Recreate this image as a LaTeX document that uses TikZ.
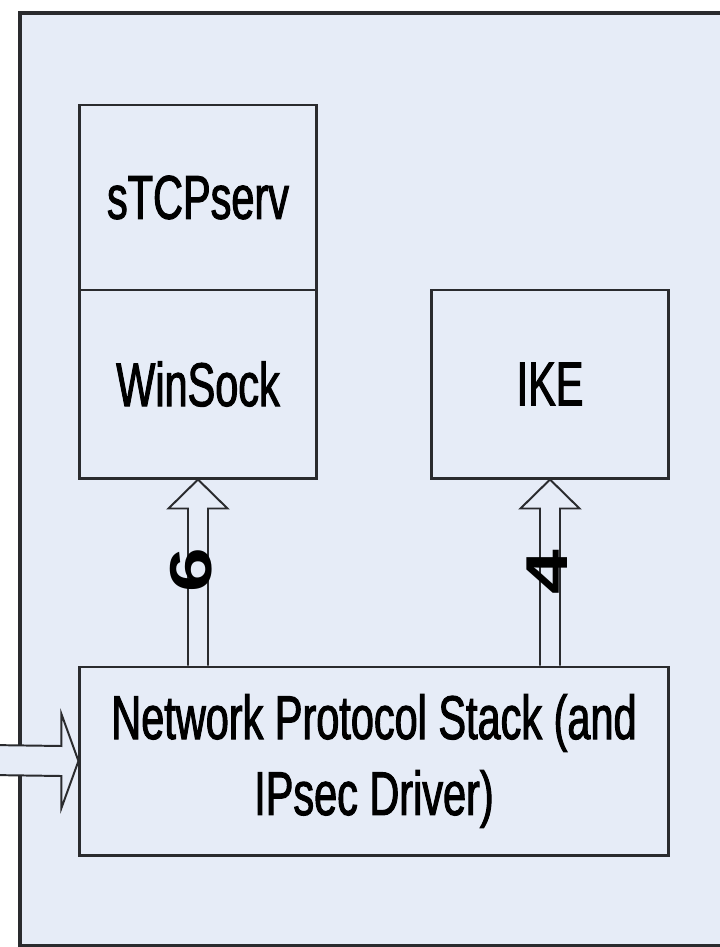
\documentclass[tikz,border=0pt]{standalone}
\usepackage{fontspec}
\setmainfont{Liberation Sans}
\newfontfamily\boxfont{Liberation Sans}[FakeStretch=0.67, FakeBold=1.6]
\newfontfamily\numfont{Liberation Sans}[FakeStretch=1.36]
\usetikzlibrary{calc}

\definecolor{panel}{RGB}{230,236,247}
\definecolor{edge}{RGB}{42,43,46}

\tikzset{
    box/.style={draw=edge, line width=2.1pt, fill=panel, inner sep=0pt,
        align=center, font=\boxfont\fontsize{44}{54}\selectfont},
    blockarrow/.style={draw=edge, line width=1.4pt, fill=panel, line join=miter},
    tag/.style={rotate=90, inner sep=0pt, font=\numfont\bfseries\fontsize{42}{42}\selectfont}
}

\begin{document}
\begin{tikzpicture}[x=0.025cm, y=-0.025cm]
    \clip (0,0) rectangle (720,947);

    % host frame, its right side runs off the page
    \draw[edge, line width=2.6pt, fill=panel] (20,13) rectangle (780,946);

    \node[box, minimum width=5.9cm, minimum height=4.625cm] (stcp) at (198,197.5) {sTCPserv};
    \node[box, minimum width=5.9cm, minimum height=4.7cm] (ws) at (198,384) {WinSock};
    \node[box, minimum width=5.9cm, minimum height=4.7cm] (ike) at (550,384) {IKE};
    \node[box, minimum width=14.7cm, minimum height=4.7cm] (net) at (374,761) {Network Protocol Stack (and\\IPsec Driver)};

    \coordinate (in) at (-10,760);

    % up arrows from the stack
    \draw[blockarrow] ($(ws.south |- net.north)+(-10,0)$) -- ($(ws.south)+(-10,29)$)
        -- ($(ws.south)+(-29.5,29)$) -- (ws.south) -- ($(ws.south)+(29.5,29)$)
        -- ($(ws.south)+(10,29)$) -- ($(ws.south |- net.north)+(10,0)$);
    \draw[blockarrow] ($(ike.south |- net.north)+(-10,0)$) -- ($(ike.south)+(-10,29)$)
        -- ($(ike.south)+(-29.5,29)$) -- (ike.south) -- ($(ike.south)+(29.5,29)$)
        -- ($(ike.south)+(10,29)$) -- ($(ike.south |- net.north)+(10,0)$);

    % incoming arrow
    \draw[blockarrow] ($(in)+(0,-15)$) -- ($(net.west)+(-17,-15)$) -- ($(net.west)+(-17,-47)$)
        -- (net.west) -- ($(net.west)+(-17,47)$) -- ($(net.west)+(-17,15)$) -- ($(in)+(0,15)$);

    \node[tag] (six) at (191,570) {6};
    \node[tag] (four) at (547,572) {4};
\end{tikzpicture}
\end{document}
